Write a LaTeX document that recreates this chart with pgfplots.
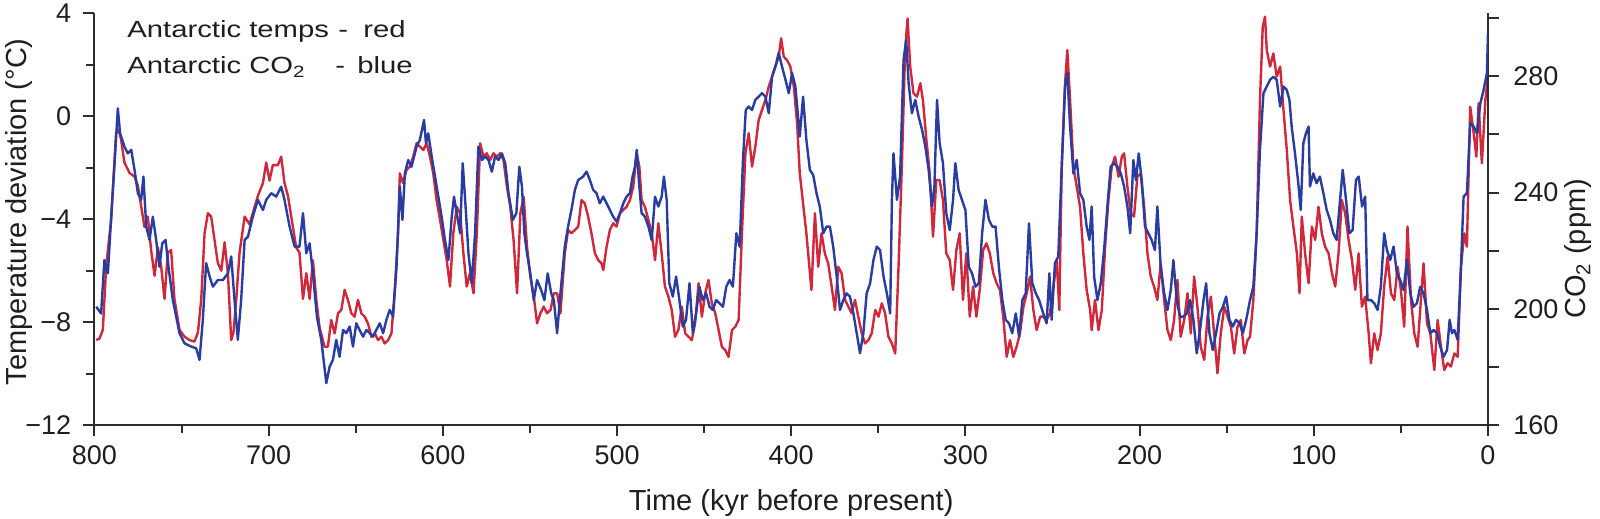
\documentclass[border=0pt]{standalone}
\usepackage{fontspec}
\setmainfont{Liberation Sans}
\usepackage{graphicx}
\usepackage{pgfplots}
\pgfplotsset{compat=1.18}
\definecolor{tred}{RGB}{206,40,58}
\definecolor{cblue}{RGB}{40,60,162}
\definecolor{axc}{RGB}{45,45,45}
\definecolor{txt}{RGB}{30,30,30}
\newcommand{\legtext}[1]{\scalebox{1.25}[1]{\fontsize{11.7}{14}\selectfont #1}}
\tikzset{leg/.style={anchor=base west, inner sep=0pt, text=txt}}
\pgfplotsset{
  common/.style={
    at={(0,0)}, anchor=south west, scale only axis,
    width=696.75pt, height=205.85pt,
    xmin=0, xmax=800, x dir=reverse,
    axis line style={axc, line width=1pt},
    tick style={axc, line width=1pt},
    major tick length=5.5pt, minor tick length=4pt,
    /pgf/number format/assume math mode=true,
    ticklabel style={font=\fontsize{13.5}{16}\selectfont, text=txt},
    label style={font=\fontsize{14.5}{17}\selectfont, text=txt},
  },
}
\begin{document}
\begin{tikzpicture}
\begin{axis}[common,
  ymin=-12, ymax=4,
  axis x line*=bottom, axis y line*=left,
  tick align=outside,
  xtick={0,100,...,800}, minor xtick={50,150,...,750},
  ytick={-12,-8,-4,0,4}, yticklabels={−12,−8,−4,0,4}, minor ytick={-10,-6,-2,2},
  xticklabel style={anchor=base, inner sep=0pt, yshift=-14pt},
  yticklabel style={anchor=east, inner sep=0pt, xshift=-6pt},
  xlabel={Time (kyr before present)},
  xlabel style={at={([yshift=-42.5pt]axis description cs:0.5,0)}, anchor=base, inner sep=0pt},
  ylabel={Temperature deviation (°C)},
  ylabel style={at={([xshift=-34pt]axis description cs:0,0.518)}, anchor=base, inner sep=0pt},
]
\addplot[tred, line width=1.2pt, line join=round, mark=none] coordinates {
(799.0,-8.7)(797.1,-8.64)(795.2,-8.3)(793.3,-5.85)(790.4,-4.0)(787.6,-0.66)(786.0,-0.54)(784.7,-0.92)(782.8,-1.8)(779.9,-2.2)(777.0,-2.35)(775.1,-2.7)(773.2,-3.5)(771.3,-4.3)(769.4,-3.9)(767.5,-5.2)(765.5,-6.2)(763.6,-5.1)(761.7,-5.85)(759.8,-7.1)(757.9,-5.3)(756.0,-5.2)(754.1,-7.1)(751.2,-8.3)(748.3,-8.57)(745.4,-8.7)(742.6,-8.76)(740.6,-8.4)(738.7,-7.1)(736.8,-4.55)(734.9,-3.77)(733.0,-3.9)(731.1,-4.8)(729.2,-5.7)(727.2,-6.0)(725.3,-4.9)(723.4,-6.1)(721.5,-8.7)(720.2,-8.4)(718.6,-7.1)(716.7,-5.3)(713.8,-3.9)(711.0,-4.2)(709.1,-3.77)(706.2,-3.1)(703.3,-2.6)(701.4,-1.8)(699.5,-2.5)(697.6,-1.9)(694.7,-1.9)(692.8,-1.57)(690.9,-2.6)(688.9,-3.1)(686.1,-4.3)(684.2,-5.1)(682.3,-5.3)(680.3,-7.1)(678.4,-6.1)(676.5,-7.1)(674.6,-5.6)(672.7,-7.1)(670.8,-8.2)(667.9,-8.96)
(666.0,-8.96)(664.1,-7.92)(662.1,-8.44)(660.2,-7.66)(658.3,-7.53)(656.4,-6.75)(654.5,-7.14)(652.5,-7.66)(650.7,-7.79)(648.7,-7.14)(646.8,-7.66)(644.9,-7.79)(643.0,-8.05)(641.0,-8.57)(639.1,-8.44)(637.2,-8.7)(635.3,-8.57)(633.4,-8.83)(631.4,-8.7)(629.5,-8.44)(627.6,-6.75)(625.7,-4.55)(624.7,-2.22)(622.8,-2.6)(620.9,-2.09)(618.9,-1.96)(617.0,-1.57)(615.1,-1.05)(613.2,-1.18)(611.2,-1.31)(609.3,-1.05)(607.4,-1.57)(605.5,-2.22)(603.6,-3.26)(601.6,-4.03)(599.7,-4.81)(597.8,-5.59)(595.9,-6.62)(594.0,-4.55)(592.0,-3.52)(590.1,-3.77)(588.2,-5.33)(586.3,-6.62)(584.4,-6.1)(582.4,-6.88)(580.5,-4.55)(578.6,-1.05)(576.7,-1.57)(574.8,-1.44)(572.8,-1.7)(570.9,-1.44)(569.0,-1.57)(567.1,-1.44)(565.2,-1.7)(563.2,-2.74)(561.3,-3.52)(559.4,-4.81)(557.4,-6.88)(555.5,-3.77)(553.6,-3.13)(551.7,-5.07)(549.8,-6.23)(547.8,-7.01)(545.9,-8.05)(544.0,-7.66)(542.1,-7.4)(540.2,-7.66)(538.2,-7.53)(536.3,-6.88)(534.4,-6.88)(532.5,-7.66)
(530.0,-5.33)(528.1,-4.42)(526.2,-4.55)(524.2,-4.42)(522.3,-4.29)(520.4,-3.26)(518.5,-3.39)(516.6,-3.9)(514.7,-4.55)(512.7,-5.33)(510.8,-5.59)(508.9,-5.72)(507.9,-5.98)(506.0,-5.07)(504.1,-4.42)(502.2,-4.16)(500.3,-4.29)(498.3,-3.77)(496.4,-3.64)(494.5,-3.52)(492.6,-3.26)(490.7,-2.74)(488.7,-1.44)(487.2,-1.96)(485.9,-3.26)(484.0,-3.52)(482.0,-4.03)(480.1,-4.55)(478.2,-5.59)(476.3,-4.16)(474.4,-5.33)(472.5,-6.62)(470.5,-7.01)(468.6,-7.53)(466.7,-8.57)(464.8,-8.31)(462.8,-7.4)(460.9,-8.44)(459.0,-8.57)(457.1,-8.7)(455.2,-8.05)(453.2,-6.49)(451.3,-7.79)(449.4,-6.88)(447.5,-6.36)(445.6,-7.27)(443.6,-7.66)(441.7,-8.31)(439.8,-8.96)(437.9,-9.09)(436.0,-9.35)(434.0,-8.31)(432.1,-8.18)(430.2,-7.92)(428.3,-4.55)(426.3,-1.44)(424.4,-0.66)(422.5,-1.96)(420.6,-1.18)(418.7,-0.15)(416.8,0.24)(414.8,0.63)(412.9,1.15)(411.0,1.54)(409.1,1.93)(407.2,2.31)(405.8,3.03)(404.3,2.31)(402.4,2.18)(400.5,1.93)(398.5,1.15)(396.6,-0.3)
(395.1,-2.22)(391.3,-4.55)(388.4,-6.75)(386.4,-3.77)(384.5,-5.85)(382.6,-4.55)(380.7,-5.33)(378.8,-5.72)(376.8,-6.62)(374.9,-7.53)(373.0,-5.85)(371.1,-6.1)(369.1,-7.14)(367.2,-7.4)(365.3,-7.66)(363.4,-7.14)(361.5,-7.79)(359.5,-8.44)(357.6,-8.83)(355.7,-8.7)(353.8,-8.44)(351.8,-7.53)(349.9,-7.79)(348.0,-7.27)(346.1,-7.66)(344.2,-8.57)(342.2,-8.83)(340.3,-9.22)(338.4,-5.85)(336.5,-1.96)(334.6,2.57)(333.2,3.8)(331.7,1.93)(329.8,0.89)(327.8,0.76)(325.9,1.28)(324.4,0.63)(322.4,-0.92)(320.5,-2.22)(318.6,-4.68)(316.7,-2.48)(314.8,-2.48)(312.9,-3.26)(311.0,-5.33)(309.0,-5.59)(307.1,-6.75)(305.2,-5.2)(303.3,-4.55)(301.4,-7.14)(299.5,-5.33)(297.5,-7.79)(295.6,-6.62)(293.7,-7.79)(291.8,-6.75)(289.8,-5.2)(287.9,-4.94)(286.0,-5.33)(284.0,-6.1)(282.1,-6.49)(280.2,-6.75)(278.3,-7.79)(276.3,-9.35)(274.4,-8.7)(272.5,-9.35)(270.6,-8.96)(268.7,-8.44)(266.7,-7.4)(264.8,-6.88)(262.9,-6.23)(261.0,-7.53)(259.1,-8.31)(257.1,-7.79)
(255.3,-7.79)(253.4,-7.92)(251.5,-7.66)(249.5,-6.62)(247.6,-5.59)(246.1,-7.53)(244.7,-1.96)(242.8,1.28)(241.5,2.57)(239.9,0.63)(238.0,-1.96)(236.1,-2.74)(234.2,-3.52)(232.3,-5.33)(230.4,-6.75)(228.4,-7.53)(227.5,-8.31)(225.6,-7.14)(223.6,-8.31)(221.7,-7.53)(219.8,-5.07)(217.9,-3.26)(216.0,-1.96)(214.1,-1.57)(212.1,-2.35)(210.2,-1.57)(208.9,-1.44)(207.0,-2.74)(205.1,-3.77)(203.2,-3.9)(201.3,-2.35)(199.4,-2.22)(197.4,-3.52)(195.5,-5.33)(193.6,-6.23)(191.7,-6.62)(189.8,-7.14)(187.9,-5.72)(185.9,-7.14)(184.0,-8.31)(182.1,-8.7)(180.2,-7.92)(178.3,-6.36)(176.4,-8.57)(174.4,-7.92)(172.5,-6.88)(170.6,-8.44)(168.7,-6.23)(166.8,-7.4)(164.9,-8.96)(162.9,-9.47)(161.0,-7.79)(159.1,-7.01)(157.2,-8.44)(155.3,-9.99)(153.4,-8.44)(151.4,-7.4)(149.5,-7.79)(147.6,-8.18)(145.7,-9.22)(143.8,-8.18)(141.9,-7.92)(139.9,-9.22)(138.0,-8.7)
(136.6,-8.57)(134.7,-7.14)(132.8,-4.55)(130.9,0.63)(129.3,3.48)(128.0,3.87)(127.0,2.57)(125.1,1.93)(123.2,2.44)(121.3,1.54)(119.3,1.93)(117.4,0.24)(115.5,-1.31)(113.6,-3.26)(111.7,-4.29)(109.7,-5.33)(108.2,-6.88)(106.9,-3.9)(105.0,-5.33)(103.0,-6.49)(101.1,-4.29)(99.2,-4.81)(97.3,-3.52)(95.4,-4.55)(93.5,-5.07)(91.5,-5.33)(89.6,-6.1)(87.7,-6.62)(85.8,-5.33)(83.9,-3.26)(82.0,-3.77)(80.0,-4.81)(78.1,-5.59)(76.2,-6.75)(74.3,-5.33)(72.4,-7.4)(70.5,-7.01)(68.5,-8.44)(67.2,-9.6)(65.3,-8.44)(63.4,-9.09)(61.5,-8.44)(59.6,-6.62)(57.6,-5.46)(55.7,-6.88)(53.8,-7.14)(51.9,-5.85)(50.0,-6.75)(48.1,-8.18)(46.2,-4.29)(44.2,-7.14)(42.3,-8.44)(40.4,-8.96)(38.5,-7.14)(37.0,-5.72)(35.0,-8.05)(33.1,-8.44)(30.8,-9.86)(28.9,-7.92)(27.0,-8.96)(25.1,-9.86)(23.2,-9.6)(21.3,-9.73)(19.3,-9.22)(17.4,-9.35)(15.5,-5.85)(13.6,-4.55)(12.1,-5.07)(10.2,0.37)(8.2,-0.66)(6.7,-1.57)(5.4,0.5)(3.5,-1.83)(1.5,0.63)(0.2,1.41)
};
\node[leg] at ([xshift=16.25pt,yshift=-12pt]axis description cs:0,1) {\legtext{Antarctic temps}};
\node[leg] at ([xshift=121.75pt,yshift=-12pt]axis description cs:0,1) {\legtext{-}};
\node[leg] at ([xshift=134.25pt,yshift=-12pt]axis description cs:0,1) {\legtext{red}};
\node[leg] at ([xshift=16.25pt,yshift=-30.35pt]axis description cs:0,1) {\legtext{Antarctic CO\textsubscript{2}}};
\node[leg] at ([xshift=120.25pt,yshift=-30.35pt]axis description cs:0,1) {\legtext{-}};
\node[leg] at ([xshift=131.25pt,yshift=-30.35pt]axis description cs:0,1) {\legtext{blue}};
\end{axis}
\begin{axis}[common,
  ymin=160, ymax=301.7,
  axis y line*=right, axis x line=none,
  tick align=outside,
  ytick={160,180,...,300}, yticklabels={160,,200,,240,,280,},
  yticklabel style={anchor=west, inner sep=0pt, xshift=7pt},
  ylabel={CO\textsubscript{2} (ppm)},
  ylabel style={at={([xshift=49pt]axis description cs:1,0.428)}, anchor=base, inner sep=0pt},
]
\addplot[cblue, line width=1.2pt, line join=round, mark=none] coordinates {
(799.0,200.7)(796.2,198.4)(794.3,216.8)(792.3,212.2)(790.4,231.7)(787.9,255.8)(786.6,269)(785.3,260.4)(782.8,255.8)(780.9,253.5)(778.9,254.7)(777.0,247.8)(775.1,239.8)(773.2,237.5)(771.9,245.5)(770.3,228.3)(768.4,223.7)(766.5,231.7)(764.6,223.7)(762.7,214.5)(761.1,222.5)(759.2,223.7)(757.3,213.4)(755.0,203)(751.2,191.6)(748.3,188.1)(744.5,187)(741.6,186.4)(739.7,182.4)(737.8,196.2)(735.9,215.7)(733.9,211.1)(732.0,207.6)(729.2,209.9)(726.3,209.9)(723.4,212.2)(721.5,218)(719.6,203)(717.7,189.3)(715.8,203)(713.8,223.7)(711.9,224.8)(709.1,231.7)(706.2,237.5)(703.3,234)(701.4,237.5)(698.5,239.8)(695.7,238.6)(692.8,242)(690.9,237.5)(688.0,228.3)(685.1,221.4)(682.3,221.4)(680.3,232.9)(678.4,219.1)(676.5,222.5)(674.6,212.2)(672.3,197.3)(669.8,189.3)
(666.9,174.4)(665.0,180.1)(663.1,182.4)(661.2,189.3)(659.3,183.5)(657.3,192.7)(655.4,191.6)(653.5,193.9)(651.6,187)(649.7,195)(647.8,192.7)(645.8,190.4)(643.9,192.7)(642.0,191.6)(640.1,190.4)(638.2,192.7)(636.2,195)(634.3,191.6)(632.4,196.2)(630.5,199.6)(628.6,197.3)(626.6,214.5)(624.7,242.1)(623.2,230.6)(621.8,246.6)(619.9,251.2)(618.0,248.9)(615.1,255.8)(613.2,258.1)(610.8,265)(609.7,257)(608.4,260.4)(606.4,252.4)(604.5,245.5)(602.6,238.6)(600.7,231.7)(598.8,223.7)(596.8,216.8)(594.9,231.7)(593.6,238.6)(592.0,232.9)(590.1,226)(588.6,250.1)(587.2,237.5)(585.3,219.1)(583.4,208.8)(581.5,226)(579.6,255.8)(577.6,251.2)(575.7,252.4)(573.8,251.2)(571.9,247.2)(570.0,252.4)(568.0,251.2)(566.1,253.5)(564.2,250.1)(562.3,239.8)(559.8,230.6)(557.8,232.9)(556.1,248.9)(554.6,242.1)(553.2,226)(551.7,219.1)(549.8,212.2)(547.8,203)(545.9,209.9)(543.6,206.5)(541.7,203)(539.8,212.2)(537.8,205.3)(536.3,203)(534.4,191.6)(532.5,205.3)
(530.0,221.4)(528.1,228.3)(526.2,234)(524.2,240.9)(522.3,244.3)(519.5,245.5)(517.5,247.2)(515.6,244.3)(513.7,240.9)(511.8,239.8)(509.9,236.3)(507.9,238.6)(506.0,236.3)(504.1,234)(502.2,231.7)(500.3,230)(498.3,232.9)(496.4,236.3)(494.5,238.6)(492.6,239.8)(491.1,245.5)(489.7,248.9)(488.7,254.7)(487.2,242.1)(485.9,232.9)(484.0,231.7)(482.0,228.3)(480.1,223.7)(478.2,238.6)(476.3,235.2)(474.4,238.6)(473.1,245.5)(471.5,237.5)(470.0,208.8)(468.0,204.2)(466.1,211.1)(464.2,203)(462.3,193.9)(460.4,196.2)(458.4,208.8)(456.5,191.6)(454.6,198.4)(452.7,207.6)(450.8,203)(448.8,205.3)(446.9,200.7)(445.0,199.6)(443.1,203)(441.2,201.9)(439.2,200.7)(437.3,207.6)(435.4,209.9)(433.5,207.6)(431.5,226)(429.6,221.4)(427.7,251.2)(426.1,268.4)(424.4,269.6)(422.5,268.4)(420.6,271.9)(418.7,273)(416.8,274.2)(414.8,273)(412.9,267.3)(411.0,279.9)(409.1,283.4)(407.2,288)(405.3,283.4)(403.3,278.8)(401.4,274.2)(399.5,281.1)(397.6,276.5)
(395.1,259.3)(393.2,273)(391.3,258.1)(389.3,247.8)(387.4,246.1)(385.5,239.8)(383.6,235.2)(381.6,226)(379.7,228.3)(377.8,228.3)(375.9,221.4)(373.9,211.1)(372.0,199.6)(370.1,203)(368.2,205.3)(366.3,204.2)(364.3,198.4)(362.4,191.6)(360.5,184.7)(358.6,191.6)(356.7,205.3)(354.7,208.8)(352.8,216.8)(350.9,221.4)(349.0,220.2)(347.0,211.1)(345.1,205.3)(343.2,198.4)(342.2,237.5)(341.3,253.5)(339.3,237.5)(337.5,245.5)(335.5,285.7)(334.0,292.5)(332.6,277.6)(330.7,267.3)(328.8,271.9)(326.9,266.2)(324.9,261.6)(323.0,255.8)(321.1,247.8)(319.2,235.2)(317.8,242.1)(316.3,271.9)(314.8,257)(312.9,250.1)(311.0,232.9)(309.0,227.1)(307.1,237.5)(305.8,250.1)(303.9,240.9)(302.0,237.5)(300.0,234)(298.1,214.5)(296.2,212.2)(294.2,207.6)(292.3,208.8)(290.4,226)(288.5,237.5)(286.5,230.6)(284.6,228.3)(282.7,228.3)(280.8,214.5)(278.8,203)(276.9,196.2)(275.0,195)(273.1,191.6)(271.1,198.4)(269.2,190.4)(267.3,203)(265.4,205.3)(263.5,229.4)(261.6,208.8)(259.6,205.3)(257.7,203)
(255.3,198.4)(253.4,195)(251.8,212.2)(250.5,196.2)(248.6,215.7)(246.7,218)(244.7,248.9)(242.8,276.5)(241.5,281.1)(239.9,262.7)(238.0,246.6)(236.1,251.2)(234.2,239.8)(232.3,237.5)(230.4,228.3)(228.8,223.7)(227.5,235.2)(226.1,211.1)(224.2,203)(222.3,208.8)(220.4,220.2)(218.5,235.2)(216.6,248.9)(214.7,250.1)(212.7,248.9)(210.8,246.6)(208.9,242.1)(207.0,235.2)(205.4,226)(203.6,251.2)(202.1,244.3)(200.5,253.5)(198.8,244.3)(196.9,228.3)(195.0,226)(193.1,223.7)(191.2,220.2)(189.8,235.2)(187.9,214.5)(185.9,205.3)(184.0,199.6)(182.1,206.5)(180.6,216.8)(178.7,203)(176.8,197.3)(174.9,197.3)(172.9,198.4)(171.0,203)(169.1,196.2)(167.2,184.7)(165.3,192.7)(163.3,203)(161.8,208.8)(159.9,191.6)(158.0,185.8)(156.1,191.6)(154.1,198.4)(152.2,200.7)(150.3,204.2)(148.4,196.2)(146.5,193.9)(144.6,196.2)(142.6,195)(140.7,191.6)(138.8,196.2)
(136.6,203)(134.7,207.6)(132.8,226)(130.9,254.7)(128.9,274.2)(127.0,276.5)(125.1,278.8)(123.2,279.9)(121.3,278.8)(119.3,269.6)(117.4,276.5)(115.5,275.3)(114.0,271.9)(112.7,262.7)(110.8,253.5)(108.9,243.2)(107.5,234)(106.0,257)(104.5,260.4)(103.0,262.7)(102.2,242.1)(100.3,246.6)(98.4,243.2)(96.5,245.5)(94.5,239.8)(92.6,234)(90.7,230.6)(88.8,226)(86.9,223.7)(84.9,237.5)(83.4,247.8)(81.5,237.5)(79.6,226)(77.7,227.1)(75.8,244.3)(74.2,245.5)(72.3,235.2)(70.5,238.6)(69.2,203)(67.2,203)(65.3,201.9)(63.4,199.6)(61.5,207.6)(59.6,226)(58.0,220.2)(56.1,216.8)(54.2,221.4)(52.3,212.2)(50.4,209.9)(48.5,206.5)(46.5,216.8)(44.6,205.3)(42.7,200.7)(40.8,201.9)(38.9,207.6)(37.0,205.3)(35.0,199.6)(33.1,191.6)(31.2,192.7)(29.3,191.6)(27.4,187)(25.5,183.5)(23.5,185.8)(22.0,196.2)(20.7,191.6)(19.3,192.7)(17.4,189.3)(15.5,214.5)(14.0,238.6)(12.1,239.8)(10.2,263.9)(8.2,262.7)(6.3,260.4)(4.4,270.7)(2.5,275.3)(0.6,281.1)(0.0,294.8)
};
\end{axis}
\pgfresetboundingbox
\path[use as bounding box] (-47.25pt,-47pt) rectangle (752.75pt,212.5pt);
\end{tikzpicture}
\end{document}
